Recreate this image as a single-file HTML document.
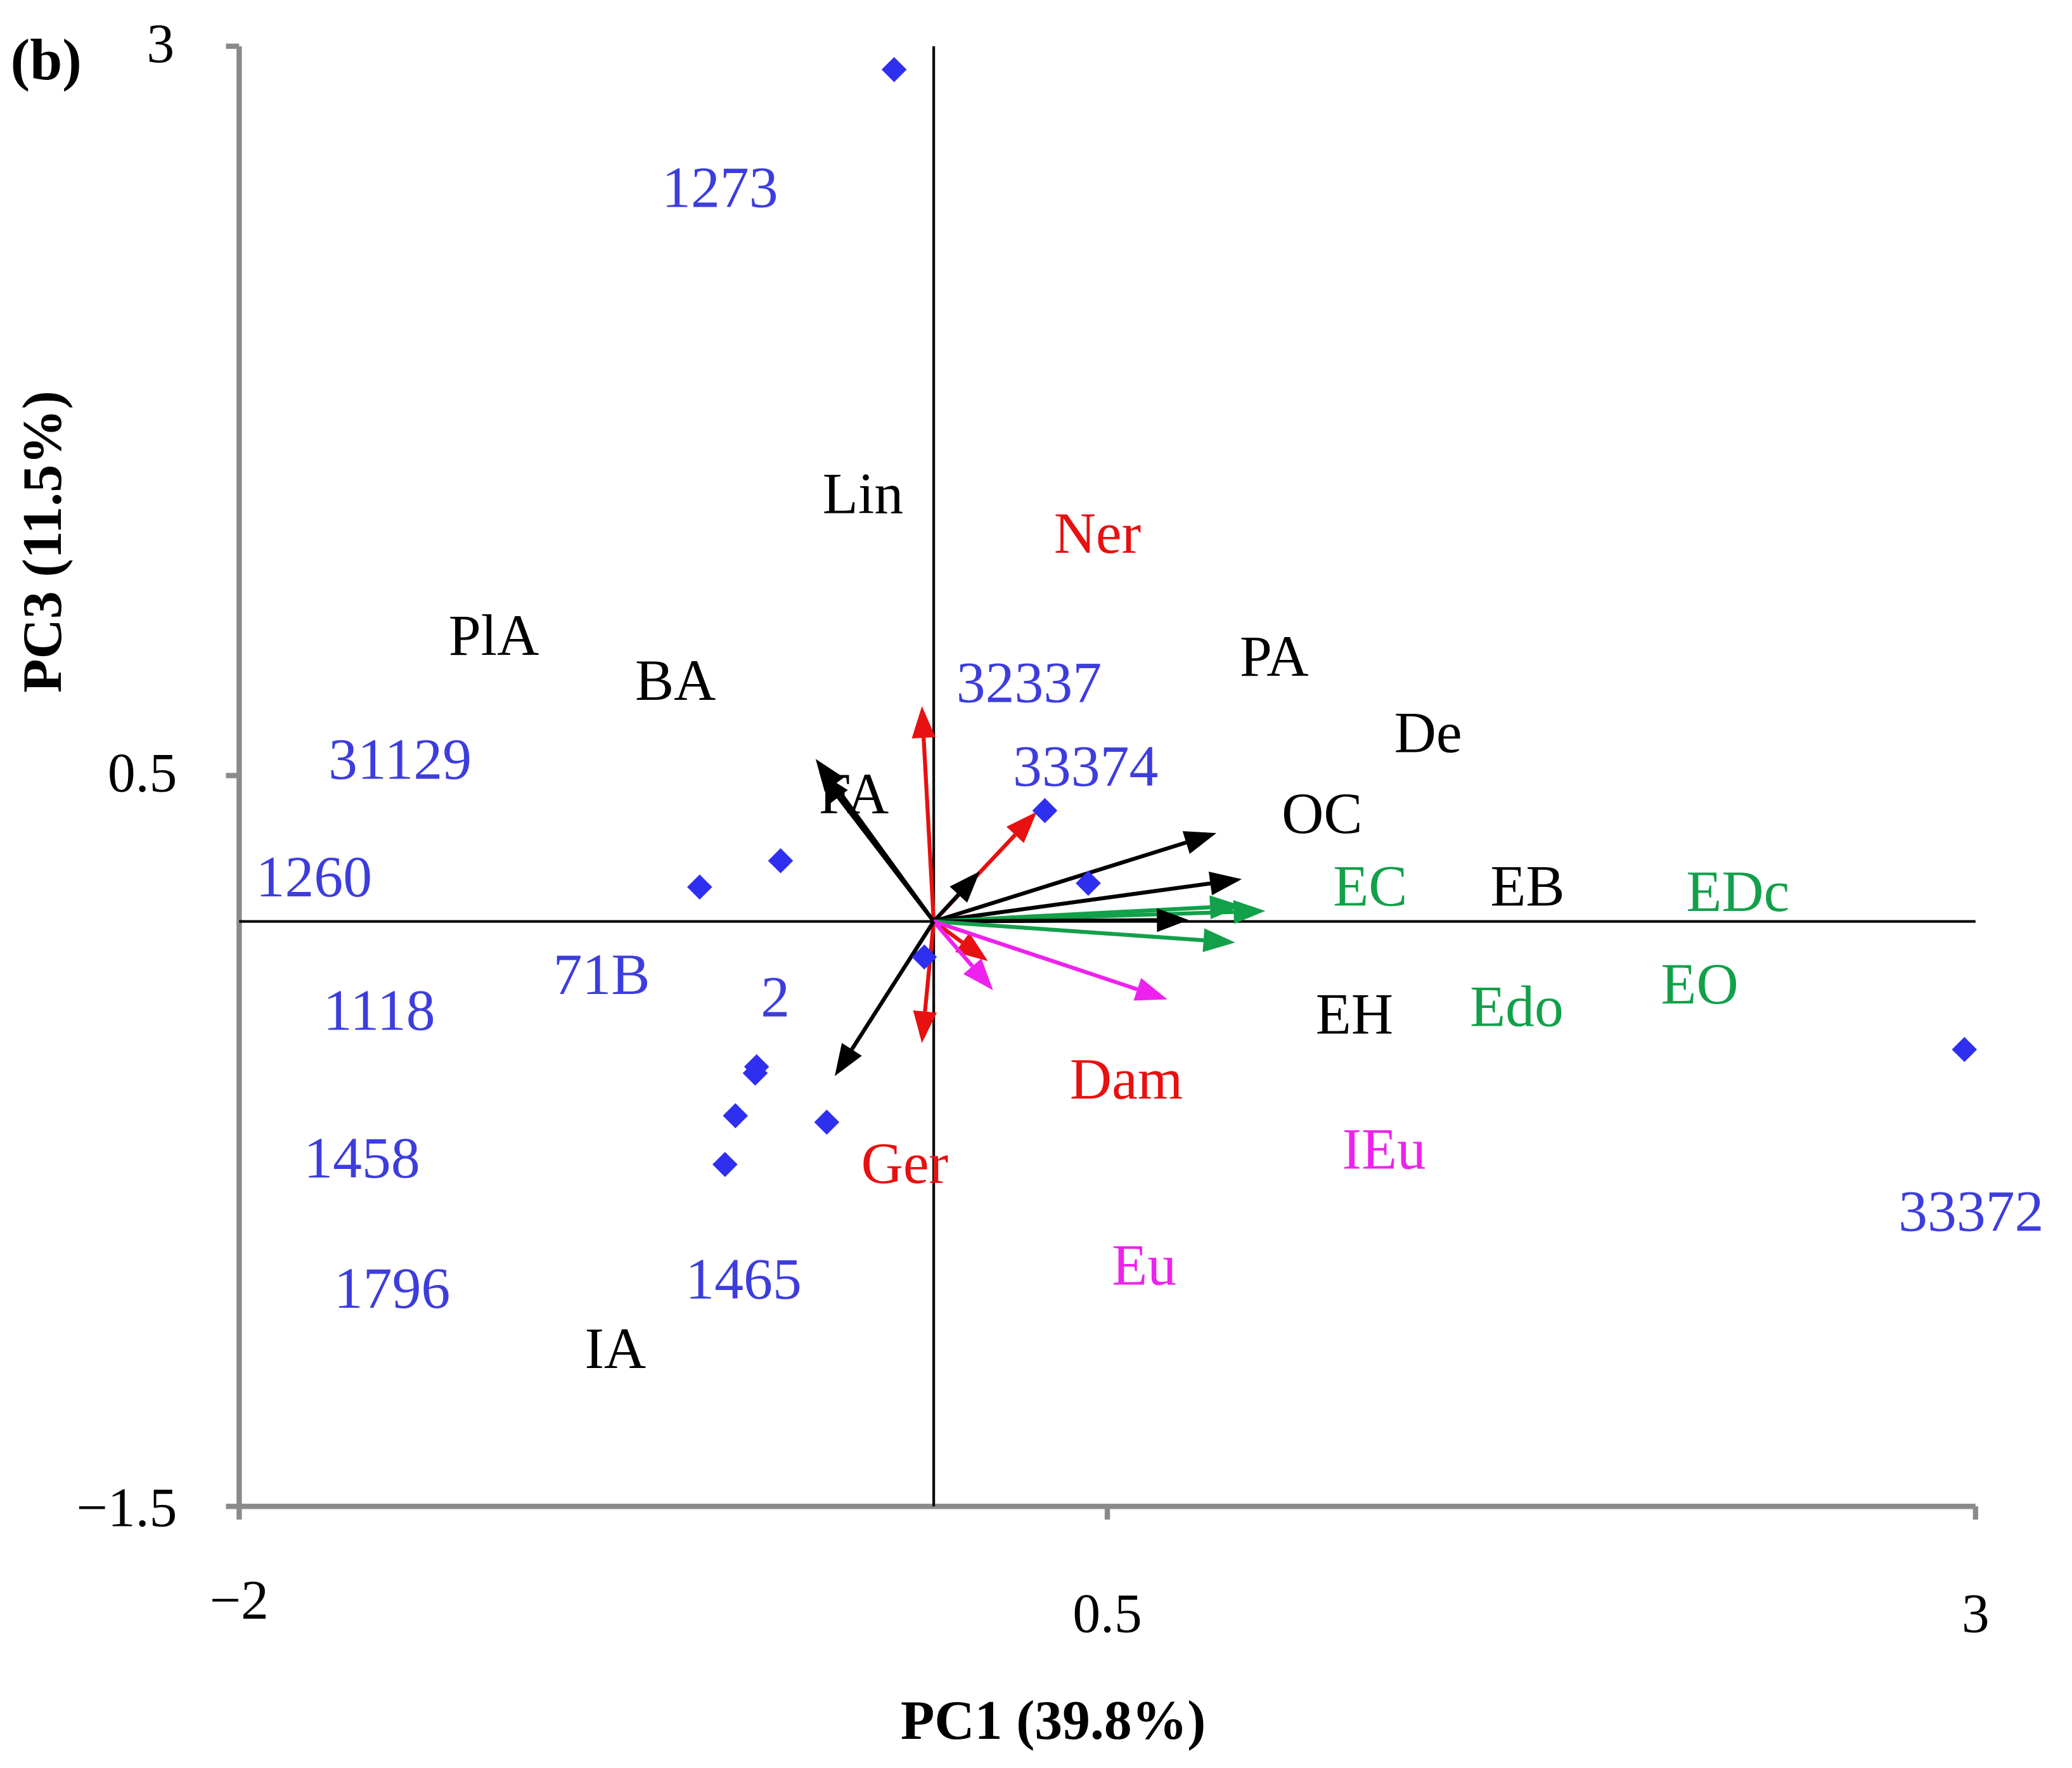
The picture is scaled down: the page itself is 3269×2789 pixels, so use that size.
<!DOCTYPE html>
<html><head><meta charset="utf-8"><style>
html,body{margin:0;padding:0;background:#fff}
svg{display:block}
text{font-family:"Liberation Serif",serif}
</style></head><body>
<svg id="chart" width="3269" height="2789" viewBox="0 0 1568 1338" preserveAspectRatio="none" xmlns="http://www.w3.org/2000/svg">
<g id="layer"></g>
</svg>
<script>
const xMin=-2, xMax=3, yMin=-2.005, yMax=3;
const X0=181, X1=1495, Y0=1140, Y1=35;
function sx(v){return X0+(v-xMin)/(xMax-xMin)*(X1-X0);}
function sy(v){return Y0-(v-yMin)/(yMax-yMin)*(Y0-Y1);}

const xTickValues=[-2,0.5,3];
const xTickLabels=["\u22122","0.5","3"];
const yTickValues=[3,0.5,-2.005];
const yTickLabels=["3","0.5","\u22121.5"];

const pointX=[-0.114,0.32,0.445,-0.441,-0.674,-0.027,-0.51,-0.514,-0.571,-0.308,-0.601,2.968];
const pointY=[2.92,0.38,0.131,0.208,0.118,-0.122,-0.498,-0.52,-0.666,-0.688,-0.833,-0.439];

const arrowX=[-0.034,-0.034,-0.34,-0.33,0.297,0.133,0.814,0.887,0.955,0.887,0.734,0.868,0.156,0.171,0.673,-0.285];
const arrowY=[0.738,-0.417,0.557,0.512,0.376,0.172,0.303,0.145,0.036,0.054,0.005,-0.072,-0.136,-0.236,-0.267,-0.53];
const arrowColor=["#e81010","#e81010","#000","#000","#e81010","#000","#000","#000","#12a04a","#12a04a","#000","#12a04a","#e81010","#ee22ee","#ee22ee","#000"];

const labelText=["1273","Lin","Ner","PlA","BA","32337","PA","De","31129","33374","FA","OC","1260","EC","EB","EDc","71B","EO","1118","2","EH","Edo","Dam","IEu","1458","Ger","33372","Eu","1465","1796","IA"];
const labelX=[-0.783,-0.32,0.346,-1.397,-0.86,0.065,0.881,1.326,-1.743,0.228,-0.331,1.002,-1.952,1.15,1.603,2.167,-1.096,2.094,-1.758,-0.498,1.1,1.544,0.392,1.176,-1.814,-0.209,2.778,0.513,-0.715,-1.727,-1.005];
const labelY=[2.449,1.4,1.264,0.914,0.76,0.752,0.842,0.58,0.489,0.465,0.371,0.303,0.086,0.054,0.054,0.036,-0.249,-0.281,-0.371,-0.326,-0.385,-0.358,-0.607,-0.847,-0.878,-0.896,-1.06,-1.245,-1.293,-1.324,-1.531];
const labelColor=["#3d3ddd","#000","#e81010","#000","#000","#3d3ddd","#000","#000","#3d3ddd","#3d3ddd","#000","#000","#3d3ddd","#12a04a","#000","#12a04a","#3d3ddd","#12a04a","#3d3ddd","#3d3ddd","#000","#12a04a","#e81010","#ee22ee","#3d3ddd","#e81010","#3d3ddd","#ee22ee","#3d3ddd","#3d3ddd","#000"];

const NS="http://www.w3.org/2000/svg";
const layer=document.getElementById('layer');
function mk(tag,attrs,parent){const e=document.createElementNS(NS,tag);for(const k in attrs)e.setAttribute(k,attrs[k]);(parent||layer).appendChild(e);return e;}

let ax=mk('line',{x1:X0,y1:Y1,x2:X0,y2:Y0,stroke:'#8a8a8a','stroke-width':4});


let axx=mk('line',{x1:X0-2,y1:Y0,x2:X1,y2:Y0,stroke:'#8a8a8a','stroke-width':4});


xTickValues.forEach((v,i)=>{
  const t=mk('line',{x1:sx(v),y1:Y0,x2:sx(v),y2:Y0+10,stroke:'#8a8a8a','stroke-width':4});
  
  
  const l=mk('text',{x:sx(v),y:i==0?1225:1235,'text-anchor':'middle','font-size':42,fill:'#000'});
  l.textContent=xTickLabels[i];
  
  
});
yTickValues.forEach((v,i)=>{
  const t=mk('line',{x1:X0-10,y1:sy(v),x2:X0,y2:sy(v),stroke:'#8a8a8a','stroke-width':4});
  
  
  const l=mk('text',{x:i==0?132:134,y:sy(v)+(i==2?15:12),'text-anchor':'end','font-size':42,fill:'#000'});
  l.textContent=yTickLabels[i];
  
  
});
let zv=mk('line',{x1:sx(0),y1:Y1,x2:sx(0),y2:Y0,stroke:'#000','stroke-width':2});


let zh=mk('line',{x1:X0,y1:sy(0),x2:X1,y2:sy(0),stroke:'#000','stroke-width':2});



arrowX.forEach((v,i)=>{
  const x2=sx(v),y2=sy(arrowY[i]),x1=sx(0),y1=sy(0);
  const ang=Math.atan2(y2-y1,x2-x1),L=24,W=9;
  const bx=x2-L*Math.cos(ang),by=y2-L*Math.sin(ang);
  const g=mk('g',{});
  
  
  mk('line',{x1:x1,y1:y1,x2:bx,y2:by,stroke:arrowColor[i],'stroke-width':3},g);
  const px=-Math.sin(ang)*W,py=Math.cos(ang)*W;
  mk('polygon',{points:`${x2},${y2} ${bx+px},${by+py} ${bx-px},${by-py}`,fill:arrowColor[i]},g);
});

pointX.forEach((v,i)=>{
  const cx=sx(v),cy=sy(pointY[i]),r=9.5;
  const p=mk('polygon',{points:`${cx},${cy-r} ${cx+r},${cy} ${cx},${cy+r} ${cx-r},${cy}`,fill:'#2f2ff0'});
  
  
});

labelText.forEach((t,i)=>{
  const l=mk('text',{x:sx(labelX[i]),y:sy(labelY[i]),'font-size':44,fill:labelColor[i]});
  l.textContent=t;
  
  
});

let pb=mk('text',{x:8,y:60,'font-size':44,'font-weight':'bold',fill:'#000'});
pb.textContent='(b)';


let yt=mk('text',{x:0,y:0,'font-size':42,'font-weight':'bold',fill:'#000','text-anchor':'middle',transform:'translate(46,410) rotate(-90)'});
yt.textContent='PC3 (11.5%)';


let xt=mk('text',{x:797,y:1316,'font-size':42,'font-weight':'bold',fill:'#000','text-anchor':'middle'});
xt.textContent='PC1 (39.8%)';


</script>
</body></html>
